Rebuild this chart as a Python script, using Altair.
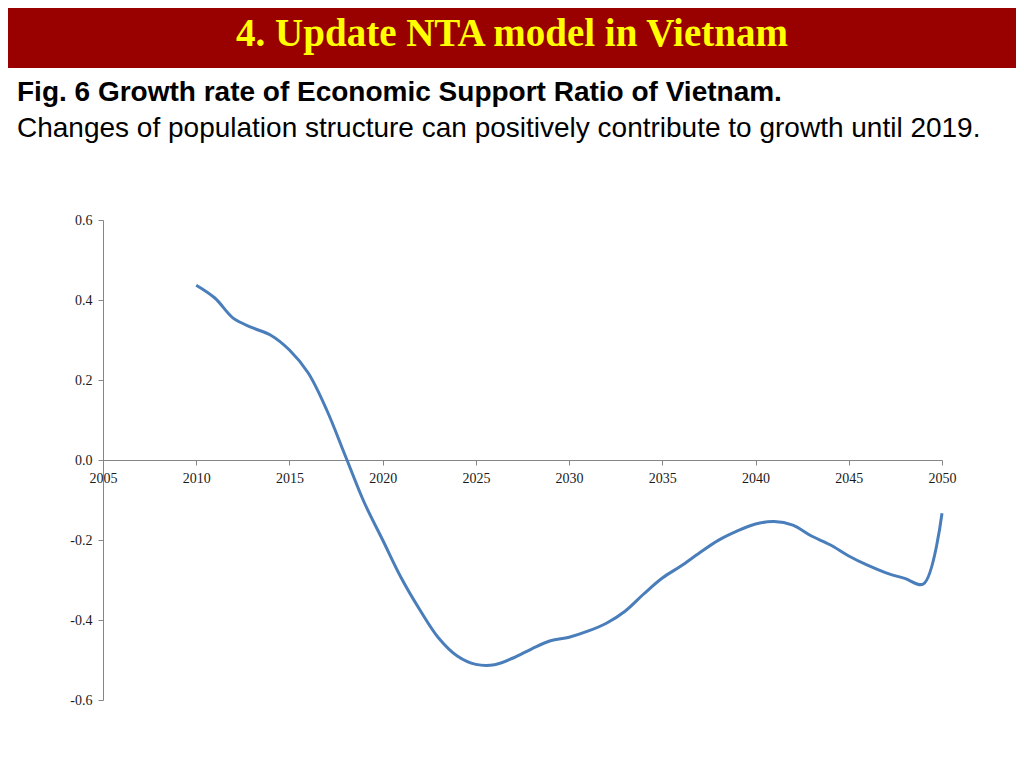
import altair as alt
import pandas as pd

years = list(range(2010, 2051))
growth = [0.437, 0.405, 0.354, 0.331, 0.312, 0.275, 0.218, 0.125, 0.01, -0.105,
          -0.20, -0.295, -0.375, -0.445, -0.49, -0.511, -0.512, -0.495, -0.472, -0.452,
          -0.443, -0.428, -0.408, -0.378, -0.335, -0.295, -0.265, -0.232, -0.201, -0.178,
          -0.16, -0.154, -0.163, -0.19, -0.212, -0.24, -0.263, -0.282, -0.296, -0.31,
          -0.133]
x_ticks = list(range(2005, 2051, 5))
y_ticks = [-0.6, -0.4, -0.2, 0.0, 0.2, 0.4, 0.6]

header = "4. Update NTA model in Vietnam"
fig_title = "Fig. 6 Growth rate of Economic Support Ratio of Vietnam."
fig_sub = "Changes of population structure can positively contribute to growth until 2019."

df = pd.DataFrame({"year": years, "value": growth})
one = pd.DataFrame({"k": [0]})

line = alt.Chart(df).mark_line(color="#4A7EBB", strokeWidth=3, interpolate="catmull-rom").encode(
    x=alt.X("year:Q", scale=alt.Scale(domain=[2005, 2050], nice=False, zero=False),
            axis=alt.Axis(values=x_ticks, format="d", offset=-240, grid=False, title=None,
                          tickSize=5, labelPadding=6, labelFlush=False,
                          domainColor="#868686", tickColor="#868686",
                          labelFont="Liberation Serif", labelFontSize=14, labelColor="#1a1a1a")),
    y=alt.Y("value:Q", scale=alt.Scale(domain=[-0.6, 0.6], nice=False),
            axis=alt.Axis(values=y_ticks, grid=False, title=None,
                          labelExpr="datum.value < 0 ? '-' + format(-datum.value, '.1f') : format(datum.value, '.1f')",
                          tickSize=5, labelPadding=6, labelFlush=False,
                          domainColor="#868686", tickColor="#868686",
                          labelFont="Liberation Serif", labelFontSize=14, labelColor="#1a1a1a")),
)

bar = alt.Chart(one).mark_rect(color="#990000").encode(
    x=alt.value(-95), x2=alt.value(913), y=alt.value(-212), y2=alt.value(-152)
)

t1 = alt.Chart(one).mark_text(font="Liberation Serif", fontWeight="bold", fontSize=39,
                              color="#FFFF00", align="center", baseline="alphabetic").encode(
    x=alt.value(409), y=alt.value(-174), text=alt.value(header))

t2 = alt.Chart(one).mark_text(font="Liberation Sans", fontWeight="bold", fontSize=28,
                              color="#000000", align="left", baseline="alphabetic").encode(
    x=alt.value(-86), y=alt.value(-119), text=alt.value(fig_title))

t3 = alt.Chart(one).mark_text(font="Liberation Sans", fontSize=28,
                              color="#000000", align="left", baseline="alphabetic").encode(
    x=alt.value(-86), y=alt.value(-83), text=alt.value(fig_sub))

chart = alt.layer(bar, t1, t2, t3, line).properties(
    width=839, height=480,
    padding={"left": 95, "top": 212, "right": 74, "bottom": 40},
    autosize=alt.AutoSizeParams(type="none"),
    background="white",
).configure_view(stroke=None)

chart.save("out.html", embed_options={"renderer": "svg", "actions": False})
